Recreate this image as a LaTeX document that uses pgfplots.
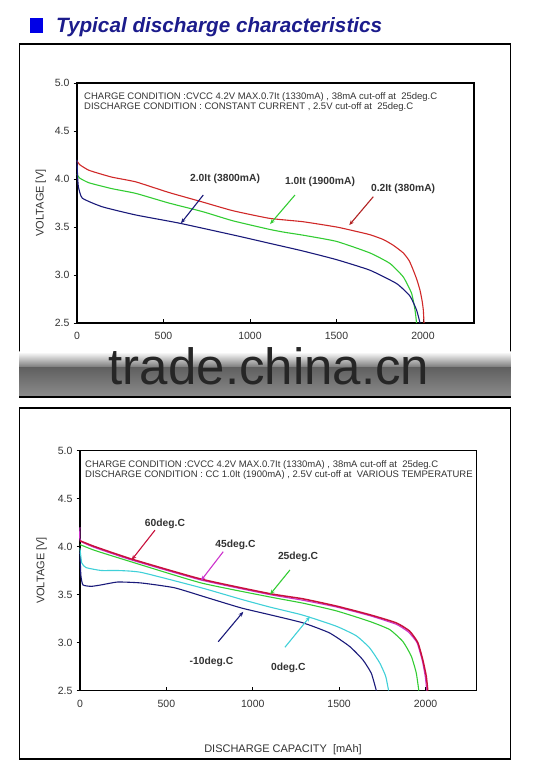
\documentclass[border=0pt]{standalone}
\usepackage{fontspec}
\setmainfont{Liberation Sans}
\usepackage{pgfplots}
\pgfplotsset{compat=1.18}
\usetikzlibrary{arrows.meta}
\definecolor{navyT}{HTML}{1C1C8C}
\definecolor{sqblue}{HTML}{0000E6}
\definecolor{cRed}{HTML}{D02828}
\definecolor{cGreen}{HTML}{33CC33}
\definecolor{cNavy}{HTML}{1A1A7A}
\definecolor{cCrim}{HTML}{C8103C}
\definecolor{cMag}{HTML}{CC33CC}
\definecolor{cCyan}{HTML}{40D0D8}
\definecolor{txt}{HTML}{333333}
\pgfplotsset{
  mychart/.style={
    scale only axis, height=240pt,
    xmin=0, xmax=2295, ymin=2.5, ymax=5.0,
    xtick={0,500,1000,1500,2000}, ytick={2.5,3.0,3.5,4.0,4.5,5.0},
    tick align=inside, tick pos=left, major tick length=3.5pt,
    ytick style={xshift=-3.5pt},
    axis line style={line width=1.1pt}, tick style={line width=0.6pt, black},
    /pgf/number format/assume math mode=true,
    /pgf/number format/1000 sep={},
    yticklabel style={/pgf/number format/fixed, /pgf/number format/fixed zerofill, /pgf/number format/precision=1, xshift=-4pt},
    tick label style={font=\fontsize{10.5}{12}\selectfont, text=txt},
    xticklabel style={yshift=-6pt},
    ylabel={VOLTAGE [V]},
    ylabel style={anchor=center, font=\fontsize{11}{13}\selectfont, text=txt},
    clip=false,
  },
}
\tikzset{
  ann/.style={font=\fontsize{10.3}{12}\selectfont\bfseries, text=txt, inner sep=0},
  arr/.style={line width=1.1pt, -{Stealth[length=5pt,width=4pt]}},
}
\begin{document}
\begin{tikzpicture}
\useasboundingbox (0,0) rectangle (537pt,767pt);
% frames
\draw[line width=1.2pt] (19.3pt,723pt) rectangle (510.7pt,370pt);
\draw[line width=1.2pt] (19.3pt,359pt) rectangle (510.7pt,8pt);
% title
\fill[sqblue] (30pt,734pt) rectangle (43pt,749pt);
\node[anchor=base west, inner sep=0, font=\fontsize{20.7}{24}\selectfont\bfseries\itshape, text=navyT] at (56pt,734.5pt) {Typical discharge characteristics};

% ---------- top chart ----------
\begin{axis}[mychart, at={(77pt,444pt)}, anchor=south west, width=397pt,
  ylabel style={at={(axis description cs:-0.091,0.5)}}]
\addplot[cRed, line width=1.1pt, smooth, tension=0.3] coordinates {
(0,4.19)(15,4.15)(70,4.09)(200,4.02)(340,3.97)(530,3.86)(726,3.76)(900,3.67)(1113,3.59)(1306,3.555)(1500,3.50)(1600,3.46)(1693,3.42)(1770,3.37)(1828,3.31)(1886,3.23)(1920,3.15)(1944,3.05)(1965,2.95)(1983,2.84)(1995,2.73)(2002,2.635)(2006,2.5)};
\addplot[cGreen, line width=1.1pt, smooth, tension=0.3] coordinates {
(0,4.05)(15,4.01)(70,3.96)(200,3.90)(340,3.85)(530,3.75)(726,3.66)(900,3.565)(1113,3.475)(1200,3.445)(1306,3.415)(1500,3.35)(1693,3.23)(1809,3.12)(1886,2.98)(1934,2.81)(1954,2.635)(1963,2.5)};
\addplot[cNavy, line width=1.1pt, smooth, tension=0.3] coordinates {
(0,4.20)(3,4.05)(8,3.92)(31,3.80)(147,3.71)(340,3.625)(591,3.54)(920,3.41)(1113,3.33)(1306,3.25)(1500,3.16)(1693,3.05)(1848,2.91)(1925,2.78)(1963,2.635)(1983,2.5)};
\node[anchor=north west, align=left, inner sep=0, font=\fontsize{9.5}{10.4}\selectfont, text=txt, xshift=7pt, yshift=-9pt] at (rel axis cs:0,1)
  {CHARGE CONDITION :CVCC 4.2V MAX.0.7It (1330mA) , 38mA cut-off at\ \ 25deg.C\\DISCHARGE CONDITION : CONSTANT CURRENT , 2.5V cut-off at\ \ 25deg.C};
\draw[arr, cNavy] (axis cs:730,3.833) -- (axis cs:601,3.539);
\node[ann] at (axis cs:856,4.0) {2.0It (3800mA)};
\draw[arr, cGreen] (axis cs:1260,3.833) -- (axis cs:1116,3.53);
\node[ann] at (axis cs:1405,3.97) {1.0It (1900mA)};
\draw[arr, cRed!85!black] (axis cs:1713,3.816) -- (axis cs:1574,3.52);
\node[ann] at (axis cs:1885,3.90) {0.2It (380mA)};
\end{axis}

% ---------- bottom chart ----------
\begin{axis}[mychart, at={(80pt,76.5pt)}, anchor=south west, width=396.5pt,
  ylabel style={at={(axis description cs:-0.097,0.5)}},
  xlabel={DISCHARGE CAPACITY\ \ [mAh]},
  xlabel style={at={(axis description cs:0.512,-0.248)}, anchor=center, font=\fontsize{11}{13}\selectfont, text=txt}]
\addplot[cNavy, line width=1.1pt, smooth, tension=0.3] coordinates {
(0,3.94)(5,3.70)(17,3.60)(65,3.585)(123,3.60)(219,3.63)(355,3.62)(547,3.57)(740,3.465)(933,3.36)(1097,3.29)(1290,3.205)(1444,3.10)(1560,2.96)(1637,2.82)(1686,2.68)(1715,2.5)};
\addplot[cCyan, line width=1.1pt, smooth, tension=0.3] coordinates {
(0,3.98)(10,3.83)(35,3.78)(123,3.75)(219,3.75)(355,3.73)(702,3.57)(933,3.45)(1097,3.37)(1290,3.285)(1483,3.17)(1599,3.07)(1676,2.945)(1734,2.79)(1769,2.65)(1786,2.5)};
\addplot[cGreen, line width=1.1pt, smooth, tension=0.3] coordinates {
(0,4.02)(84,3.96)(297,3.84)(702,3.62)(1097,3.475)(1290,3.41)(1483,3.33)(1676,3.22)(1792,3.135)(1869,3.01)(1917,2.86)(1946,2.685)(1961,2.5)};
\addplot[cMag, line width=1.1pt, smooth, tension=0.3] coordinates {
(0,4.20)(2,4.06)(84,3.99)(297,3.86)(702,3.65)(1095,3.50)(1290,3.44)(1483,3.37)(1676,3.28)(1830,3.19)(1900,3.11)(1950,3.0)(1980,2.82)(1998,2.65)(2007,2.5)};
\addplot[cCrim, line width=1.5pt, smooth, tension=0.3] coordinates {
(0,4.06)(84,4.00)(297,3.87)(702,3.66)(1095,3.51)(1290,3.455)(1483,3.38)(1676,3.29)(1830,3.205)(1907,3.12)(1955,3.0)(1984,2.82)(2004,2.65)(2013,2.5)};
\node[anchor=north west, align=left, inner sep=0, font=\fontsize{9.5}{10.6}\selectfont, text=txt, xshift=5pt, yshift=-9.5pt] at (rel axis cs:0,1)
  {CHARGE CONDITION :CVCC 4.2V MAX.0.7It (1330mA) , 38mA cut-off at\ \ 25deg.C\\DISCHARGE CONDITION : CC 1.0It (1900mA) , 2.5V cut-off at\ \ VARIOUS TEMPERATURE};
\draw[arr, cCrim] (axis cs:434,4.17) -- (axis cs:299,3.86);
\node[ann] at (axis cs:492,4.24) {60deg.C};
\draw[arr, cMag] (axis cs:829,3.946) -- (axis cs:700,3.644);
\node[ann] at (axis cs:900,4.015) {45deg.C};
\draw[arr, cGreen] (axis cs:1215,3.755) -- (axis cs:1100,3.50);
\node[ann] at (axis cs:1262,3.89) {25deg.C};
\draw[arr, cNavy] (axis cs:800,3.008) -- (axis cs:945,3.32);
\node[ann] at (axis cs:761,2.80) {-10deg.C};
\draw[arr, cCyan] (axis cs:1186,2.95) -- (axis cs:1331,3.27);
\node[ann] at (axis cs:1206,2.74) {0deg.C};
\end{axis}

% watermark band
\shade[top color=white, bottom color=black!55] (19.3pt,415pt) rectangle (510.7pt,399pt);
\shade[top color=black!62, bottom color=black!45] (19.3pt,399pt) rectangle (510.7pt,370pt);
\draw[line width=1.2pt] (19.3pt,370pt) -- (510.7pt,370pt);
\node[anchor=base, inner sep=0, font=\fontsize{51}{60}\selectfont, text=black!85] at (269pt,382pt) {trade.china.cn};
\end{tikzpicture}
\end{document}
